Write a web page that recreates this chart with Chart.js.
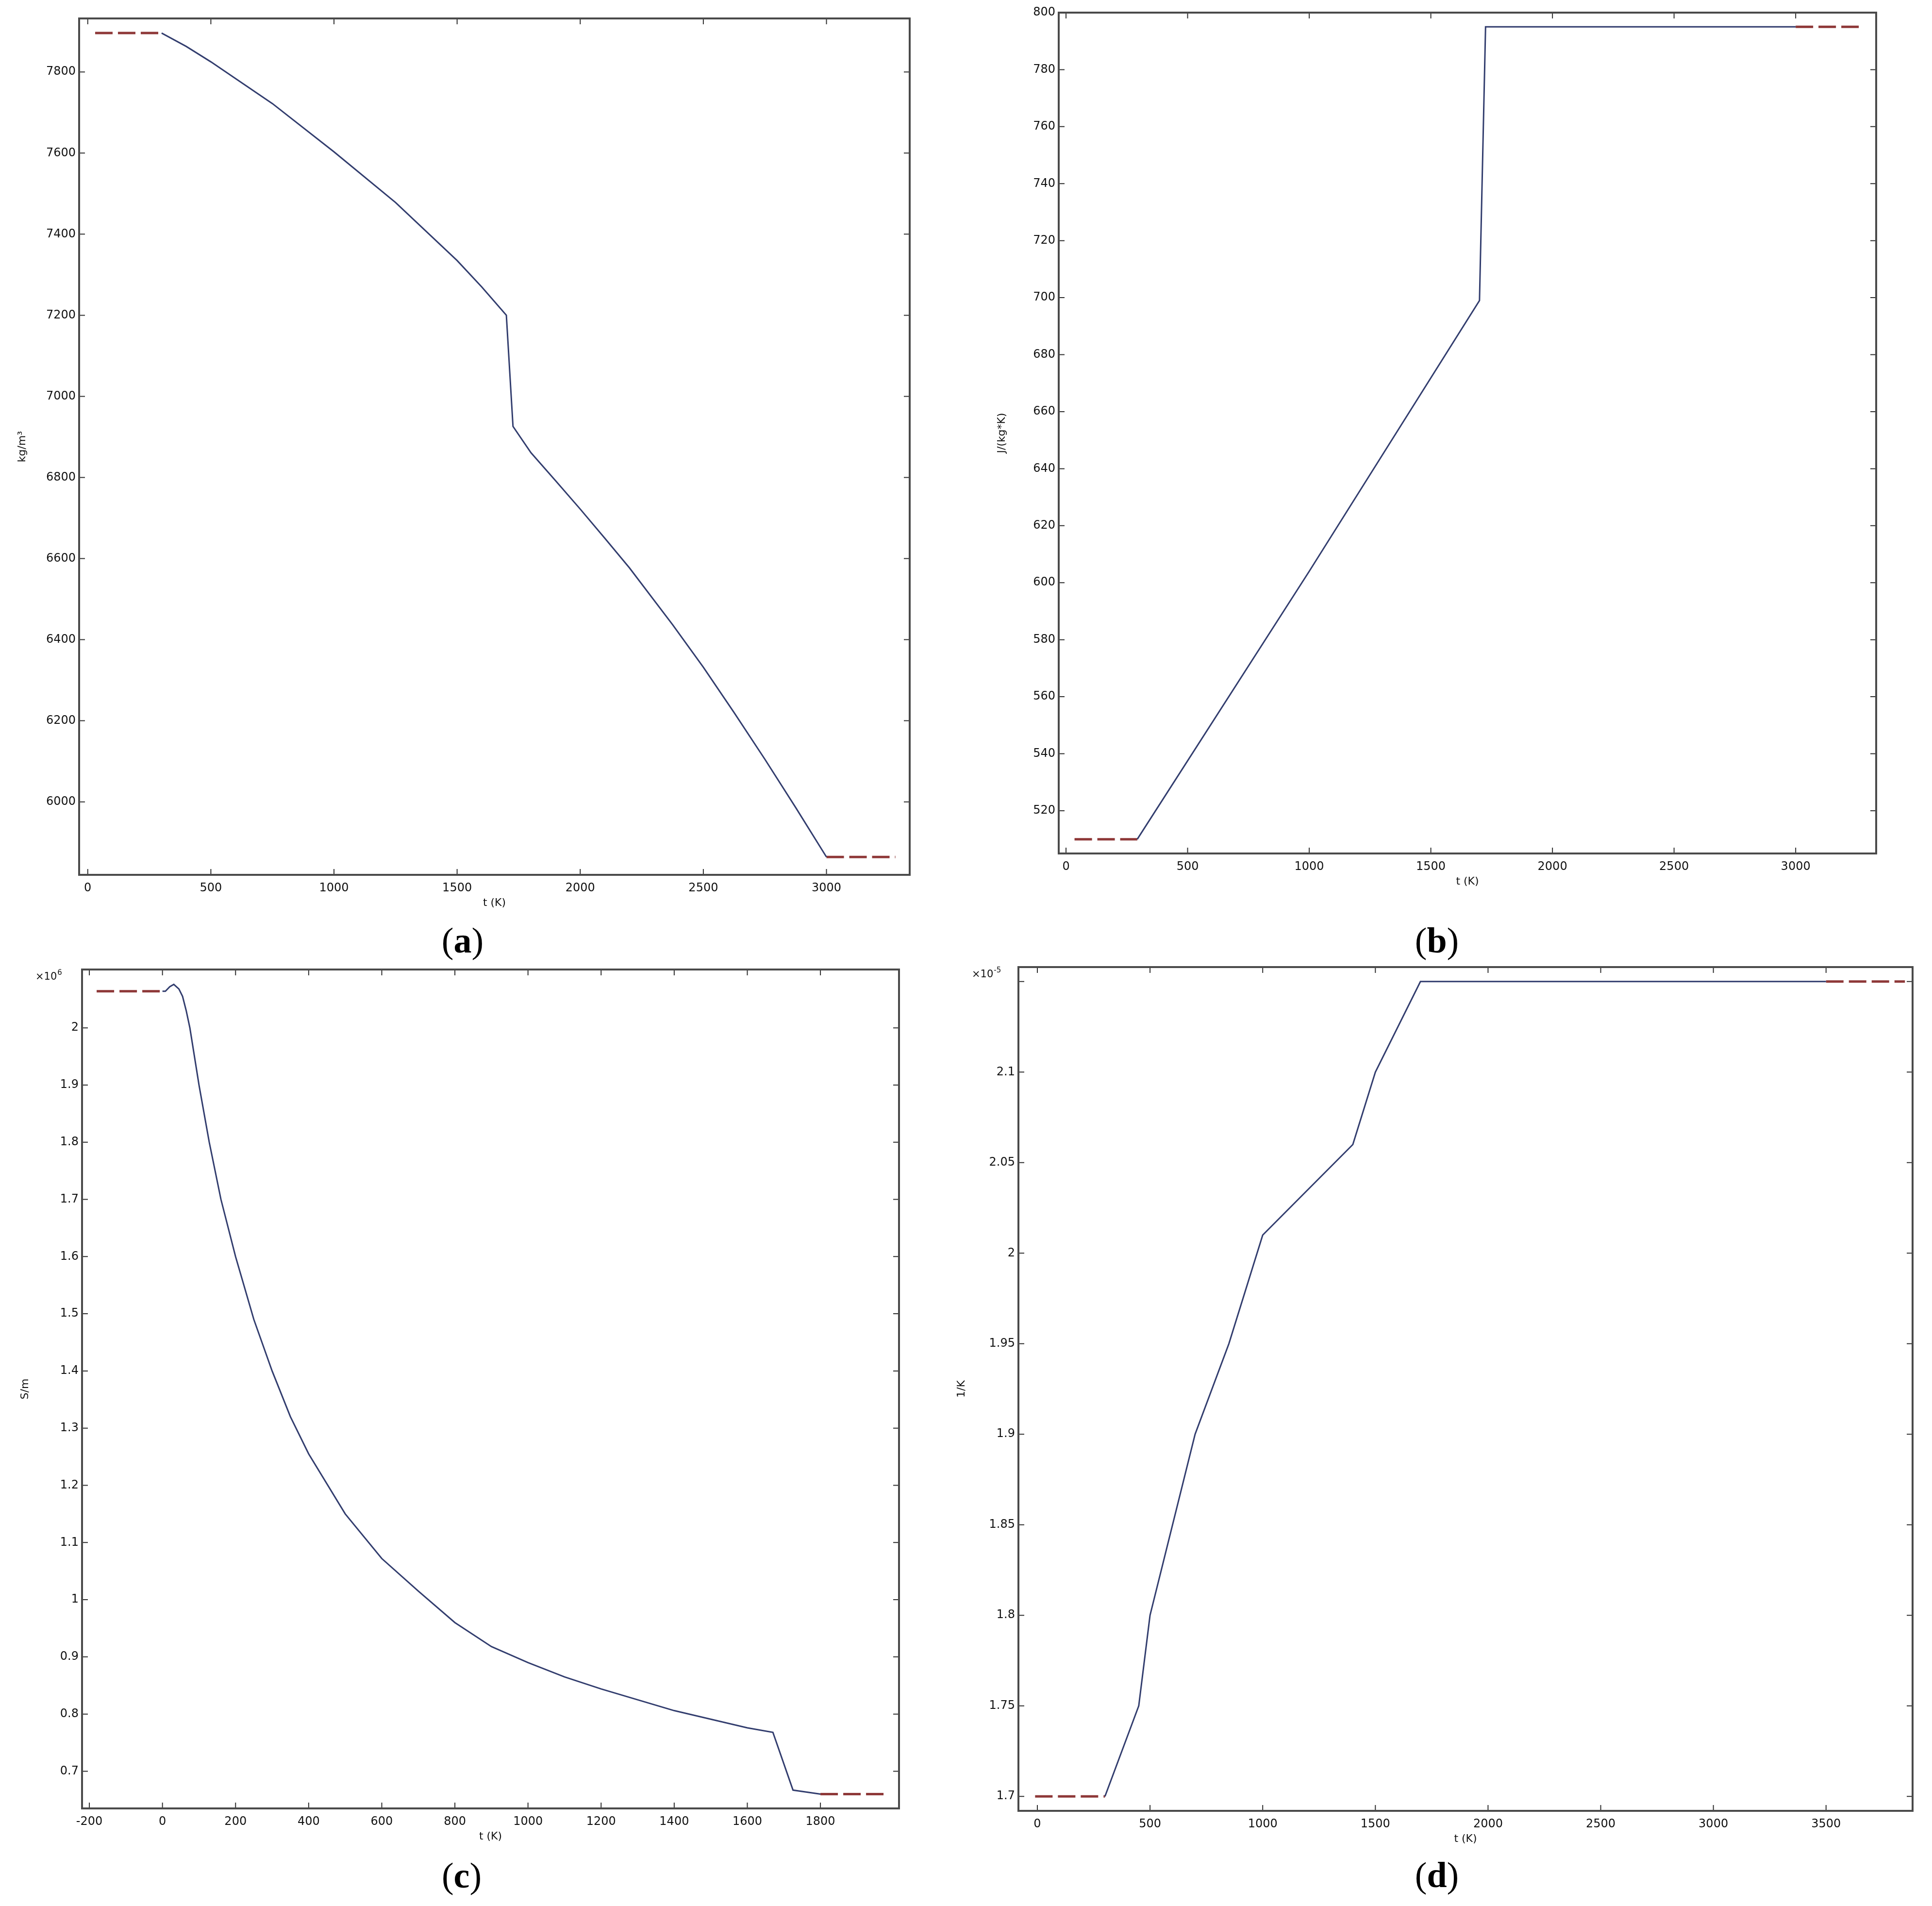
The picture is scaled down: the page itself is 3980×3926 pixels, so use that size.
<!DOCTYPE html>
<html>
<head>
<meta charset="utf-8">
<title>Material properties vs temperature</title>
<script src="https://cdn.jsdelivr.net/npm/chart.js@4.4.0/dist/chart.umd.min.js"></script>
<style>
    html, body { margin: 0; padding: 0; background: #ffffff; }
    #figure { position: relative; width: 3980px; height: 3926px; background: #ffffff; overflow: hidden; }
    #figure canvas { position: absolute; }
    .panel-label {
        position: absolute;
        font-family: 'Liberation Serif', 'Times New Roman', serif;
        font-size: 74px;
        line-height: 1;
        color: #000;
        white-space: nowrap;
        transform: translate(-50%, -50%);
    }
</style>
</head>
<body>
<div id="figure">
    <canvas id="chart-a" width="1990" height="1900" style="left:0px;top:0px"></canvas>
    <canvas id="chart-b" width="1990" height="1900" style="left:1990px;top:0px"></canvas>
    <canvas id="chart-c" width="1990" height="1870" style="left:0px;top:1960px"></canvas>
    <canvas id="chart-d" width="2040" height="1870" style="left:1940px;top:1960px"></canvas>
    <div class="panel-label" style="left:953px;top:1937px">(<b>a</b>)</div>
    <div class="panel-label" style="left:2960px;top:1937px">(<b>b</b>)</div>
    <div class="panel-label" style="left:951px;top:3863px">(<b>c</b>)</div>
    <div class="panel-label" style="left:2960px;top:3862px">(<b>d</b>)</div>
</div>
<script>
// (a) density, kg/m^3
const densityTemp = [300, 400, 500, 750, 1000, 1250, 1500, 1600, 1700, 1727, 1800, 1900, 2000, 2100, 2200, 2375, 2500, 2625, 2750, 2875, 3000];
const densityValue = [7896, 7863, 7825, 7722, 7603, 7478, 7335, 7270, 7200, 6926, 6861, 6792, 6722, 6650, 6577, 6437, 6332, 6220, 6105, 5986, 5864];
const densityLowTemp = [30, 300];
const densityLowValue = [7896, 7896];
const densityHighTemp = [3000, 3280];
const densityHighValue = [5864, 5864];
const densityXTicks = [0, 500, 1000, 1500, 2000, 2500, 3000];
const densityYTicks = [6000, 6200, 6400, 6600, 6800, 7000, 7200, 7400, 7600, 7800];

// (b) heat capacity, J/(kg*K)
const heatTemp = [293, 1000, 1700, 1725, 3000];
const heatValue = [510, 604, 699, 795, 795];
const heatLowTemp = [35, 293];
const heatLowValue = [510, 510];
const heatHighTemp = [3000, 3265];
const heatHighValue = [795, 795];
const heatXTicks = [0, 500, 1000, 1500, 2000, 2500, 3000];
const heatYTicks = [520, 540, 560, 580, 600, 620, 640, 660, 680, 700, 720, 740, 760, 780, 800];

// (c) electrical conductivity, x10^6 S/m
const condTemp = [0, 8, 20, 31, 45, 55, 65, 75, 100, 128, 160, 200, 250, 300, 350, 400, 500, 600, 700, 800, 900, 1000, 1100, 1200, 1400, 1600, 1670, 1725, 1800];
const condValue = [2.064, 2.064, 2.072, 2.076, 2.068, 2.055, 2.03, 2.0, 1.9, 1.8, 1.7, 1.6, 1.49, 1.40, 1.32, 1.255, 1.15, 1.072, 1.015, 0.96, 0.918, 0.89, 0.865, 0.844, 0.806, 0.776, 0.768, 0.667, 0.660];
const condLowTemp = [-180, 0];
const condLowValue = [2.064, 2.064];
const condHighTemp = [1800, 1980];
const condHighValue = [0.660, 0.660];
const condXTicks = [-200, 0, 200, 400, 600, 800, 1000, 1200, 1400, 1600, 1800];
const condYTicks = [0.7, 0.8, 0.9, 1, 1.1, 1.2, 1.3, 1.4, 1.5, 1.6, 1.7, 1.8, 1.9, 2];

// (d) thermal expansion coefficient, x10^-5 1/K
const expTemp = [300, 450, 500, 700, 850, 1000, 1400, 1500, 1700, 3500];
const expValue = [1.70, 1.75, 1.80, 1.90, 1.95, 2.01, 2.06, 2.10, 2.15, 2.15];
const expLowTemp = [-10, 300];
const expLowValue = [1.70, 1.70];
const expHighTemp = [3500, 3850];
const expHighValue = [2.15, 2.15];
const expXTicks = [0, 500, 1000, 1500, 2000, 2500, 3000, 3500];
const expYTicks = [1.7, 1.75, 1.8, 1.85, 1.9, 1.95, 2, 2.05, 2.1, 2.15];

const SOLID_COLOR = '#323d6e';
const DASH_COLOR = '#8e3838';
const TEXT_COLOR = '#111111';
const FONT = 'DejaVu Sans';

/**
 * Box around the plot area with inward ticks on all four sides,
 * plus the optional "x10^n" multiplier above the y axis.
 */
const framePlugin = {
    id: 'frame',
    afterDatasetsDraw(chart, args, opts) {
        const { ctx, chartArea: area, scales } = chart;
        const tick = 12;
        ctx.save();

        ctx.strokeStyle = '#303030';
        ctx.lineWidth = 2;
        ctx.beginPath();
        scales.x.ticks.forEach(t => {
            const px = scales.x.getPixelForValue(t.value);
            ctx.moveTo(px, area.bottom);
            ctx.lineTo(px, area.bottom - tick);
            ctx.moveTo(px, area.top);
            ctx.lineTo(px, area.top + tick);
        });
        scales.y.ticks.forEach(t => {
            const py = scales.y.getPixelForValue(t.value);
            ctx.moveTo(area.left, py);
            ctx.lineTo(area.left + tick, py);
            ctx.moveTo(area.right, py);
            ctx.lineTo(area.right - tick, py);
        });
        ctx.stroke();

        ctx.strokeStyle = '#4a4a4a';
        ctx.lineWidth = 4;
        ctx.strokeRect(area.left, area.top, area.right - area.left, area.bottom - area.top);

        if (opts.exponent) {
            const x0 = area.left - 96;
            const yBase = area.top + 21;
            ctx.fillStyle = TEXT_COLOR;
            ctx.textAlign = 'left';
            ctx.textBaseline = 'alphabetic';
            ctx.font = '21px "' + FONT + '"';
            ctx.fillText('×10', x0, yBase);
            const w = ctx.measureText('×10').width;
            ctx.font = '15px "' + FONT + '"';
            ctx.fillText(opts.exponent, x0 + w + 1, yBase - 10);
        }
        ctx.restore();
    }
};

function toPoints(xs, ys) {
    return xs.map((x, i) => ({ x: x, y: ys[i] }));
}

function curveDatasets(main, low, high) {
    const base = { pointRadius: 0, pointHoverRadius: 0, tension: 0, fill: false };
    return [
        Object.assign({}, base, { data: main, borderColor: SOLID_COLOR, borderWidth: 3 }),
        Object.assign({}, base, { data: low, borderColor: DASH_COLOR, borderWidth: 5, borderDash: [36, 11] }),
        Object.assign({}, base, { data: high, borderColor: DASH_COLOR, borderWidth: 5, borderDash: [36, 11] })
    ];
}

function createPanel(canvasId, p) {
    const ctx = document.getElementById(canvasId).getContext('2d');
    return new Chart(ctx, {
        type: 'line',
        data: { datasets: curveDatasets(p.main, p.low, p.high) },
        plugins: [framePlugin],
        options: {
            responsive: false,
            animation: false,
            devicePixelRatio: 1,
            layout: { padding: p.padding },
            plugins: {
                legend: { display: false },
                tooltip: { enabled: false },
                frame: { exponent: p.exponent || null }
            },
            scales: {
                x: {
                    type: 'linear',
                    min: p.xMin,
                    max: p.xMax,
                    grid: { display: false, drawTicks: false },
                    border: { display: false },
                    afterBuildTicks: scale => { scale.ticks = p.xTicks.map(v => ({ value: v })); },
                    afterFit: scale => { scale.height = 80; },
                    ticks: {
                        color: TEXT_COLOR,
                        font: { family: FONT, size: 24 },
                        padding: 13,
                        maxRotation: 0,
                        autoSkip: false,
                        callback: v => String(v)
                    },
                    title: {
                        display: true,
                        text: 't (K)',
                        color: TEXT_COLOR,
                        font: { family: FONT, size: 22 },
                        padding: { top: 0, bottom: 9 }
                    }
                },
                y: {
                    type: 'linear',
                    min: p.yMin,
                    max: p.yMax,
                    grid: { display: false, drawTicks: false },
                    border: { display: false },
                    afterBuildTicks: scale => { scale.ticks = p.yTicks.map(v => ({ value: v })); },
                    afterFit: scale => { scale.width = 140; },
                    ticks: {
                        color: TEXT_COLOR,
                        font: { family: FONT, size: 24 },
                        padding: 7,
                        autoSkip: false,
                        callback: p.yFormat || (v => String(v))
                    },
                    title: {
                        display: true,
                        text: p.yTitle,
                        color: TEXT_COLOR,
                        font: { family: FONT, size: 22 },
                        padding: { top: 10, bottom: 0 }
                    }
                }
            }
        }
    });
}

createPanel('chart-a', {
    main: toPoints(densityTemp, densityValue),
    low: toPoints(densityLowTemp, densityLowValue),
    high: toPoints(densityHighTemp, densityHighValue),
    xTicks: densityXTicks, yTicks: densityYTicks,
    xMin: -35, xMax: 3338, yMin: 5820, yMax: 7932,
    yTitle: 'kg/m³',
    padding: { left: 23, right: 116, top: 38, bottom: 18 }
});

createPanel('chart-b', {
    main: toPoints(heatTemp, heatValue),
    low: toPoints(heatLowTemp, heatLowValue),
    high: toPoints(heatHighTemp, heatHighValue),
    xTicks: heatXTicks, yTicks: heatYTicks,
    xMin: -30, xMax: 3331, yMin: 505, yMax: 800,
    yTitle: 'J/(kg*K)',
    padding: { left: 51, right: 115, top: 26, bottom: 62 }
});

createPanel('chart-c', {
    main: toPoints(condTemp, condValue),
    low: toPoints(condLowTemp, condLowValue),
    high: toPoints(condHighTemp, condHighValue),
    xTicks: condXTicks, yTicks: condYTicks,
    xMin: -220, xMax: 2015, yMin: 0.635, yMax: 2.102,
    yTitle: 'S/m',
    exponent: '6',
    yFormat: v => String(+v.toFixed(2)),
    padding: { left: 29, right: 138, top: 37, bottom: 25 }
});

createPanel('chart-d', {
    main: toPoints(expTemp, expValue),
    low: toPoints(expLowTemp, expLowValue),
    high: toPoints(expHighTemp, expHighValue),
    xTicks: expXTicks, yTicks: expYTicks,
    xMin: -84, xMax: 3884, yMin: 1.692, yMax: 2.158,
    yTitle: '1/K',
    exponent: '-5',
    yFormat: v => (Math.abs(v - 2.15) < 1e-9 ? '' : String(+v.toFixed(2))),
    padding: { left: 18, right: 40, top: 32, bottom: 20 }
});
</script>
</body>
</html>
